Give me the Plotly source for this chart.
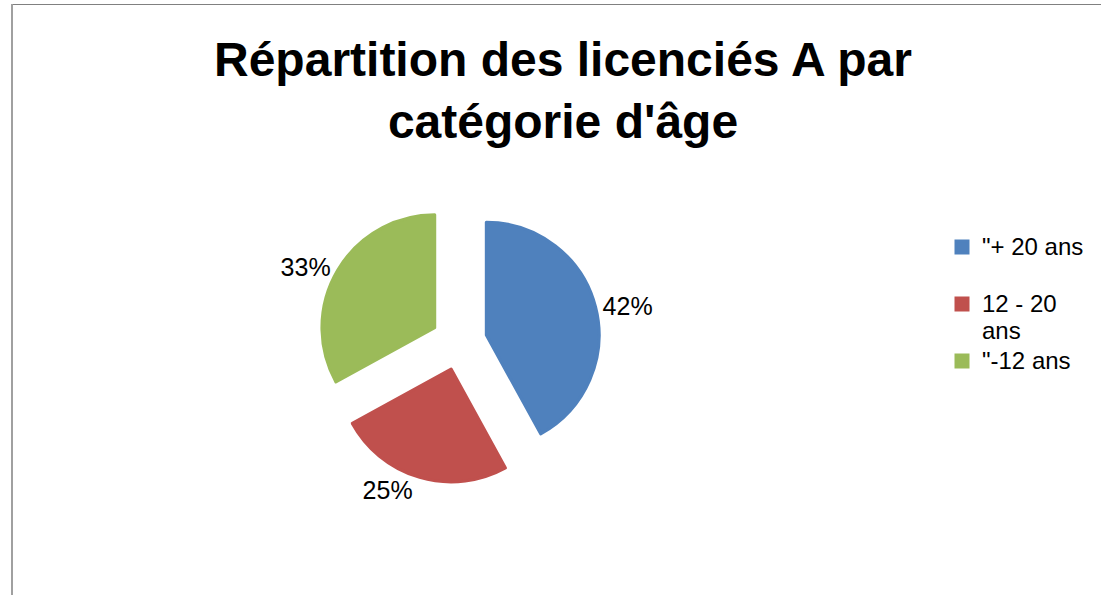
import plotly.graph_objects as go

categories = ['"+ 20 ans', '12 - 20 ans', '"-12 ans']
values = [42, 25, 33]
colors = ["#4F81BD", "#C0504D", "#9BBB59"]
# how each legend entry wraps in the reference
legend_lines = [['"+ 20 ans', '\u00a0'], ['12 - 20', 'ans'], ['"-12 ans', '\u00a0']]

W, H = 1101, 595
FONT = "Liberation Sans, Arial"
LEG_PX = 24

display = ["<br>".join('<span style="font-size:%dpx">%s</span>' % (LEG_PX, t) for t in lines)
           for lines in legend_lines]

fig = go.Figure()
fig.add_trace(go.Pie(
    labels=display,
    values=values,
    customdata=categories,
    sort=False,
    direction="clockwise",
    rotation=0,
    pull=[0.25, 0.25, 0.25],
    marker=dict(colors=colors, line=dict(width=3, color=colors)),
    textinfo="percent",
    textposition="outside",
    texttemplate="%{percent:.0%}",
    outsidetextfont=dict(family=FONT, size=25, color="#000000"),
    domain=dict(x=[318 / W, 600 / W], y=[1 - 483 / H, 1 - 201 / H]),
    hovertemplate="%{customdata}: %{percent}<extra></extra>",
))

fig.update_layout(
    width=W, height=H,
    margin=dict(l=0, r=0, t=0, b=0),
    paper_bgcolor="white",
    plot_bgcolor="white",
    title=dict(
        text="<b>Répartition des licenciés A par<br>catégorie d'âge</b>",
        x=563 / W, xanchor="center",
        y=1 - 76 / H, yanchor="middle",
        font=dict(family=FONT, size=48, color="#000000"),
    ),
    legend=dict(
        x=942 / W, xanchor="left",
        y=1 - 227 / H, yanchor="top",
        font=dict(family=FONT, size=20.77, color="#000000"),
        bgcolor="rgba(0,0,0,0)",
        itemwidth=30,
        valign="top",
    ),
    showlegend=True,
    shapes=[
        dict(type="line", xref="paper", yref="paper",
             x0=11 / W, x1=1, y0=1 - 4.5 / H, y1=1 - 4.5 / H,
             line=dict(color="#808080", width=1)),
        dict(type="line", xref="paper", yref="paper",
             x0=12 / W, x1=12 / W, y0=0, y1=1 - 4 / H,
             line=dict(color="#A0A0A0", width=2)),
    ],
)

fig.write_html("out.html", config={"displayModeBar": False},
               post_script="document.body.style.margin='0px';")
